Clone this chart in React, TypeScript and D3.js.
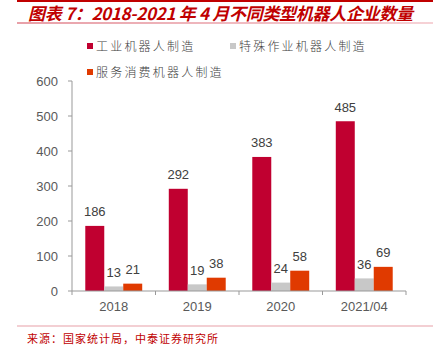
import React from "react";
import * as d3 from "d3";

const categories = ["2018", "2019", "2020", "2021/04"];
const seriesNames = ["工业机器人制造", "特殊作业机器人制造", "服务消费机器人制造"];
const industrial = [186, 292, 383, 485];
const special = [13, 19, 24, 36];
const service = [21, 38, 58, 69];
const yTicks = [0, 100, 200, 300, 400, 500, 600];
const colors = ["#C00030", "#C8C8C8", "#E03A00"];

const W = 441;
const H = 355;
const plot = { left: 72, right: 406, top: 81, bottom: 291 };

export default function App() {
  const series = [industrial, special, service];
  const x = d3.scaleBand<string>().domain(categories).range([plot.left, plot.right]).paddingInner(0).paddingOuter(0);
  const inner = d3.scaleBand<number>().domain([0, 1, 2]).range([0, x.bandwidth()]).paddingOuter(0.7).paddingInner(0);
  const y = d3.scaleLinear().domain([0, 600]).range([plot.bottom, plot.top]);
  const cjk = "'Noto Sans CJK SC', sans-serif";
  const latin = "'Liberation Sans', Arial, sans-serif";

  return (
    <svg width={W} height={H} style={{ position: "absolute", left: 0, top: 0, background: "#fff" }}>
      <defs>
        <linearGradient id="pinkline" x1="0" x2="1" y1="0" y2="0">
          <stop offset="0" stopColor="#E8A0A8" />
          <stop offset="1" stopColor="#F6D2D6" />
        </linearGradient>
      </defs>
      {/* title */}
      <rect x={17} y={0} width={416} height={2} fill="#C00000" />
      <text x={28} y={20} fontFamily={cjk} fontSize={17} fontWeight="bold" fontStyle="italic" fill="#C00000" textLength={385} lengthAdjust="spacing">
        图表 7：2018-2021 年 4 月不同类型机器人企业数量
      </text>
      <rect x={17} y={22} width={416} height={2} fill="url(#pinkline)" />

      {/* legend */}
      {[
        { x: 87, y: 46 },
        { x: 230, y: 46 },
        { x: 87, y: 72 },
      ].map((p, i) => (
        <g key={i}>
          <rect x={p.x} y={p.y - 3} width={6} height={6} fill={colors[i]} />
          <text x={p.x + 9} y={p.y + 4.5} fontFamily={cjk} fontSize={12} fontWeight={300} letterSpacing={2.2} fill="#404040">
            {seriesNames[i]}
          </text>
        </g>
      ))}

      {/* y axis */}
      <line x1={plot.left} x2={plot.left} y1={y(600)} y2={y(0)} stroke="#999" strokeWidth={1} />
      {yTicks.map((t) => (
        <g key={t}>
          <line x1={plot.left - 4} x2={plot.left} y1={y(t)} y2={y(t)} stroke="#999" />
          <text x={58} y={y(t) + 4.5} textAnchor="end" fontFamily={latin} fontSize={13} fill="#595959">
            {t}
          </text>
        </g>
      ))}

      {/* bars */}
      {categories.map((c, ci) => (
        <g key={c}>
          {series.map((s, si) => {
            const bx = (x(c) as number) + (inner(si) as number);
            const bw = inner.bandwidth();
            return (
              <g key={si}>
                <rect x={bx} y={y(s[ci])} width={bw} height={y(0) - y(s[ci])} fill={colors[si]} />
                <text x={bx + bw / 2} y={y(s[ci]) - 9.5} textAnchor="middle" fontFamily={latin} fontSize={13} fill="#404040">
                  {s[ci]}
                </text>
              </g>
            );
          })}
        </g>
      ))}

      {/* x axis */}
      <line x1={plot.left} x2={plot.right} y1={y(0)} y2={y(0)} stroke="#999" />
      {[...categories.map((c) => x(c) as number), plot.right].map((v, i) => (
        <line key={i} x1={v} x2={v} y1={y(0)} y2={y(0) + 4} stroke="#999" />
      ))}
      {categories.map((c) => (
        <text key={c} x={(x(c) as number) + x.bandwidth() / 2} y={310.5} textAnchor="middle" fontFamily={latin} fontSize={13} fill="#595959">
          {c}
        </text>
      ))}

      {/* source */}
      <rect x={17} y={325.5} width={416} height={1} fill="#E8A0A8" />
      <text x={27} y={343} fontFamily={cjk} fontSize={11} letterSpacing={1} fill="#C00000">
        来源：国家统计局，中泰证券研究所
      </text>
    </svg>
  );
}
